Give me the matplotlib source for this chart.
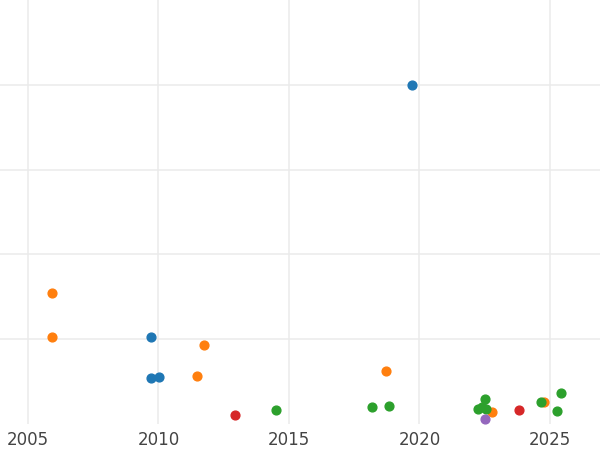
import matplotlib.pyplot as plt

# data (year, value)
blue_x = [2019.71, 2009.72, 2009.72, 2010.02]
blue_y = [4.00, 1.03, 0.54, 0.56]
orange_x = [2005.92, 2005.92, 2011.75, 2011.48, 2018.72, 2024.77, 2022.78]
orange_y = [1.55, 1.03, 0.93, 0.57, 0.62, 0.26, 0.14]
red_x = [2012.93, 2023.82]
red_y = [0.11, 0.16]
green_x = [2014.5, 2018.18, 2018.83, 2022.51, 2022.24, 2022.4, 2022.55, 2024.66, 2025.43, 2025.27]
green_y = [0.16, 0.20, 0.21, 0.30, 0.18, 0.20, 0.18, 0.26, 0.36, 0.15]
purple_x = [2022.51]
purple_y = [0.06]

fig = plt.figure(figsize=(6, 4.5), dpi=100)
ax = fig.add_axes([0, 26 / 450, 1, 424 / 450])

for xs, ys, c in [(blue_x, blue_y, '#1f77b4'), (orange_x, orange_y, '#ff7f0e'),
                  (red_x, red_y, '#d62728'), (green_x, green_y, '#2ca02c'),
                  (purple_x, purple_y, '#9467bd')]:
    ax.scatter(xs, ys, s=40, color=c, zorder=3)

ax.set_xlim(2003.93, 2026.92)
ax.set_ylim(0, 5)
ax.set_xticks([2005, 2010, 2015, 2020, 2025])
ax.set_yticks([1, 2, 3, 4])
ax.set_yticklabels([])
ax.grid(True, color='#ebebeb', linewidth=1.1, zorder=0)
ax.tick_params(length=0, labelsize=12, labelcolor='#444444', pad=5)
for s in ax.spines.values():
    s.set_visible(False)

fig.savefig('out.png', dpi=100)
